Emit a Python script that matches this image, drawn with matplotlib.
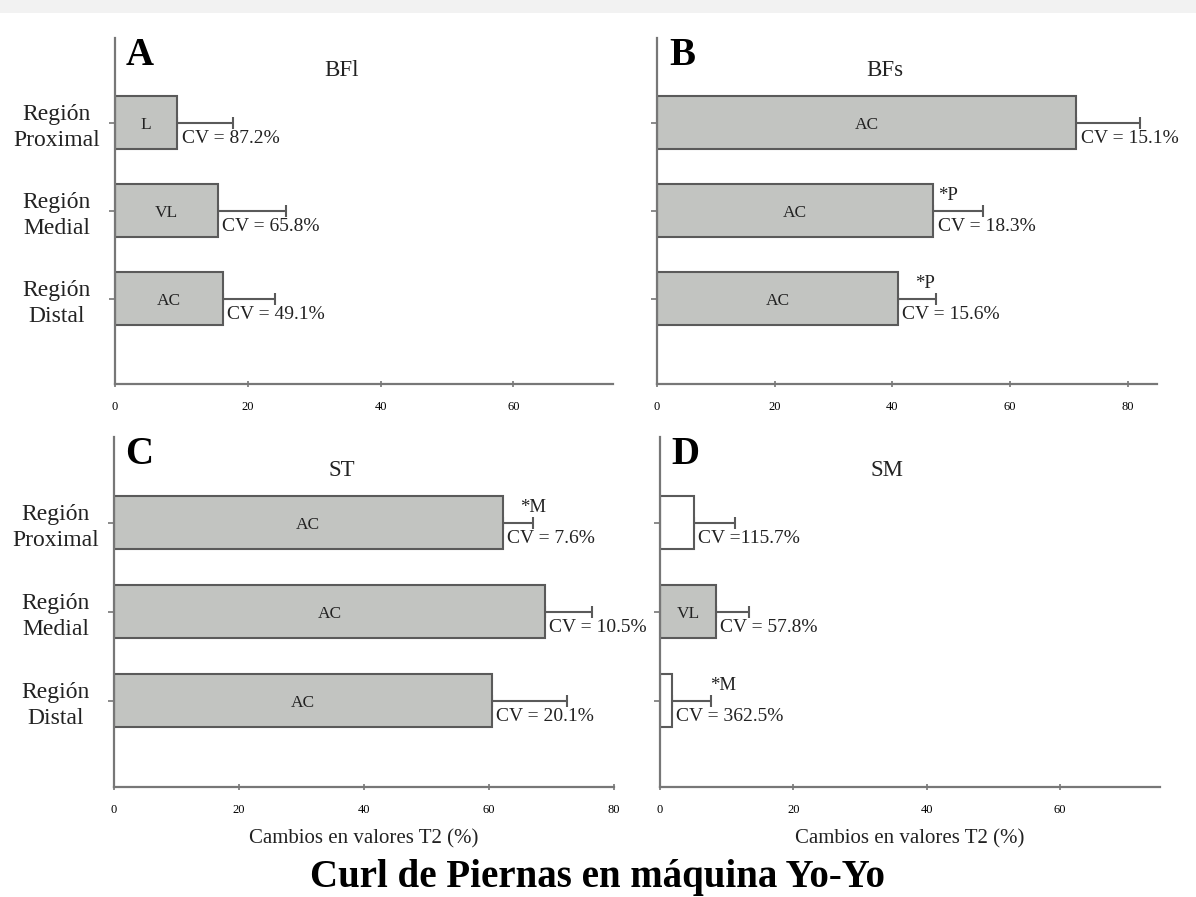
import matplotlib
matplotlib.use('Agg')
import matplotlib.pyplot as plt
from matplotlib.patches import Rectangle

plt.rcParams['font.family'] = ['Liberation Serif', 'DejaVu Serif']

# regions, top to bottom on each panel
regions = ['Región\nProximal', 'Región\nMedial', 'Región\nDistal']

# mean change in T2 (%) and upper error per region
bfl_vals = [9.4, 15.5, 16.2]
bfl_err = [8.3, 10.3, 7.9]
bfs_vals = [71.3, 47.0, 41.0]
bfs_err = [10.8, 8.5, 6.4]
st_vals = [62.2, 69.0, 60.4]
st_err = [4.8, 7.4, 12.0]
sm_vals = [5.1, 8.4, 1.8]
sm_err = [6.1, 4.9, 5.9]

# activation label inside each bar ('' means no activation -> white bar)
bfl_act = ['L', 'VL', 'AC']
bfs_act = ['AC', 'AC', 'AC']
st_act = ['AC', 'AC', 'AC']
sm_act = ['', 'VL', '']

bfl_cv = ['CV = 87.2%', 'CV = 65.8%', 'CV = 49.1%']
bfs_cv = ['CV = 15.1%', 'CV = 18.3%', 'CV = 15.6%']
st_cv = ['CV = 7.6%', 'CV = 10.5%', 'CV = 20.1%']
sm_cv = ['CV =115.7%', 'CV = 57.8%', 'CV = 362.5%']

# significance marks: (region index, text, x position)
bfs_sig = [(1, '*P', 49.5), (2, '*P', 45.5)]
st_sig = [(0, '*M', 67)]
sm_sig = [(2, '*M', 9.5)]

gray = '#c2c4c1'
edge = '#5a5a5a'

fig = plt.figure(figsize=(11.96, 8.97), dpi=100)
fig.patches.append(Rectangle((0, 0.985), 1, 0.015, transform=fig.transFigure,
                             facecolor='#f2f2f2', edgecolor='none', zorder=-1))

panels = [
    ('A', 'BFl', bfl_vals, bfl_err, bfl_act, bfl_cv, [], 75,
     [0.0962, 0.5719, 0.4164, 0.3857], True, False),
    ('B', 'BFs', bfs_vals, bfs_err, bfs_act, bfs_cv, bfs_sig, 85,
     [0.5493, 0.5719, 0.4181, 0.3857], False, False),
    ('C', 'ST', st_vals, st_err, st_act, st_cv, st_sig, 80,
     [0.0953, 0.1226, 0.4181, 0.3902], True, True),
    ('D', 'SM', sm_vals, sm_err, sm_act, sm_cv, sm_sig, 75,
     [0.5518, 0.1226, 0.4181, 0.3902], False, True),
]

for letter, muscle, vals, errs, acts, cvs, sigs, xmax, rect, ylabels, xlabel in panels:
    ax = fig.add_axes(rect)
    ypos = [2, 1, 0]
    colors = [gray if a else 'white' for a in acts]
    ax.barh(ypos, vals, height=0.6, color=colors, edgecolor=edge, linewidth=1.5, zorder=2)
    ax.errorbar(vals, ypos, xerr=[[0] * 3, errs], fmt='none', ecolor=edge,
                elinewidth=1.5, capsize=4, capthick=1.5, zorder=1)
    for y, v, a, cv in zip(ypos, vals, acts, cvs):
        if a:
            ax.text(v / 2, y - 0.03, a, ha='center', va='center', fontsize=12.5, color='#222')
        ax.annotate(cv, (v, y - 0.18), xytext=(3, 0), textcoords='offset points',
                    ha='left', va='center', fontsize=14, color='#222')
    for i, s, sx in sigs:
        ax.text(sx, ypos[i] + 0.17, s, ha='center', va='center', fontsize=13.5, color='#222')

    ax.set_xlim(0, xmax)
    ax.set_ylim(-0.97, 2.96)
    ax.set_xticks(range(0, xmax + 1, 20))
    ax.tick_params(axis='x', labelsize=9, length=4, width=1.2, color='#777',
                   direction='inout', pad=10)
    ax.set_yticks(ypos)
    if ylabels:
        ax.set_yticklabels(regions, fontsize=17, color='#222', linespacing=1.3)
        for lab in ax.get_yticklabels():
            lab.set_horizontalalignment('center')
        ax.tick_params(axis='y', pad=38)
    else:
        ax.set_yticklabels([])
    ax.tick_params(axis='y', length=4, width=1.2, color='#777')
    for side in ['top', 'right']:
        ax.spines[side].set_visible(False)
    for side in ['left', 'bottom']:
        ax.spines[side].set_color('#777')
        ax.spines[side].set_linewidth(1.6)

    ax.text(0.05, 0.95, letter, transform=ax.transAxes, ha='center', va='center',
            fontsize=28, fontweight='bold')
    ax.text(0.455, 0.905, muscle, transform=ax.transAxes, ha='center', va='center',
            fontsize=16.5, color='#222')
    if xlabel:
        ax.set_xlabel('Cambios en valores T2 (%)', fontsize=15, color='#222', labelpad=10)

fig.text(0.5, 0.022, 'Curl de Piernas en máquina Yo-Yo', ha='center', va='center',
         fontsize=28, fontweight='bold')

fig.savefig('out.png', dpi=100)
